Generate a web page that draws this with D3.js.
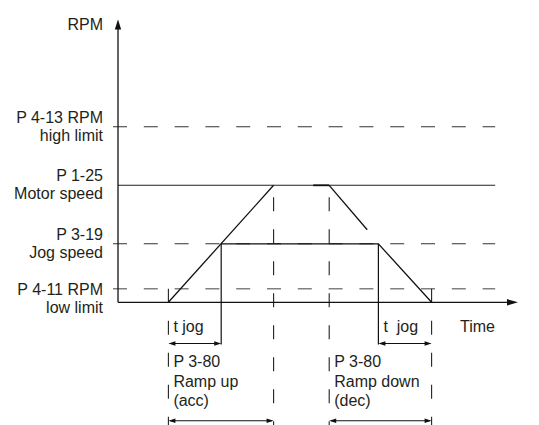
<!DOCTYPE html>
<html>
<head>
<meta charset="utf-8">
<script src="https://cdn.jsdelivr.net/npm/d3@7"></script>
<style>
  body { margin: 0; background: #fff; }
  svg text { font-family: "Liberation Sans", Arial, sans-serif; font-size: 16px; fill: #231f20; }
</style>
</head>
<body>
<svg class="jog-chart" width="539" height="425"></svg>
<script>
// speed levels (RPM), bottom to top
var levelRpm = [140, 600, 1200, 1800];
var levelLabels = [
  ["P 4-11 RPM", "low limit"],
  ["P 3-19", "Jog speed"],
  ["P 1-25", "Motor speed"],
  ["P 4-13 RPM", "high limit"]
];
var levelDashed = [true, true, false, true];

// time points of the profile
var tStart = 1.26, tJogReach = 2.58, tMotorReach = 3.89, tHold = 4.88,
    tDecel = 5.28, tDecelEnd = 6.23, tJogDecel = 6.51, tStop = 7.84, tEnd = 9.43;

var rampUp = [{t: tStart, rpm: 0}, {t: tMotorReach, rpm: 1200}];
var jogProfile = [{t: tJogReach, rpm: 600}, {t: tJogDecel, rpm: 600}, {t: tStop, rpm: 0}];
var motorHold = [{t: tHold, rpm: 1200}, {t: tDecel, rpm: 1200}];
var rampDown = [{t: tDecel, rpm: 1200}, {t: tDecelEnd, rpm: 744}];

var spanFrom = [tStart, tJogDecel, tStart, tDecel];
var spanTo = [tJogReach, tStop, tMotorReach, tStop];
var spanRow = ["jog", "jog", "ramp", "ramp"];
var spanLines = [["t jog"], ["t\u00a0\u00a0jog"], ["P 3-80", "Ramp up", "(acc)"], ["P 3-80", "Ramp down", "(dec)"]];

var JogChart = (function() {

  "use strict";

  var init = function(selector) {
    var svg = d3.select(selector);

    var x = d3.scaleLinear().domain([0, 10]).range([118, 518]),
        y = d3.scaleLinear().domain([0, 2900]).range([302.3, 19.55]);

    var rowY = {jog: 343.5, ramp: 420.7};
    var bottom = 425;

    var line = d3.line()
        .x(function(d) { return x(d.t); })
        .y(function(d) { return y(d.rpm); });

    var g = svg.append("g");

    // level lines
    levelRpm.forEach(function(v, i) {
      var dashed = levelDashed[i];
      g.append("line")
          .attr("x1", dashed ? x(0) - 5 : x(0))
          .attr("x2", x(tEnd))
          .attr("y1", y(v))
          .attr("y2", y(v))
          .attr("stroke", i === 0 ? "#808080" : (dashed ? "#333" : "#222"))
          .attr("stroke-width", i === 0 ? 1.5 : 1.1)
          .attr("stroke-dasharray", dashed ? "14,16.8" : null);

      var lbl = g.append("text")
          .attr("text-anchor", "end")
          .attr("x", 103)
          .attr("y", y(v) + (i === 0 ? 6.3 : -4.3));
      levelLabels[i].forEach(function(s, k) {
        lbl.append("tspan").attr("x", 103).attr("dy", k === 0 ? 0 : 18).text(s);
      });
    });

    // dashed verticals
    [tStart, tStop].forEach(function(t) {
      g.append("line")
          .attr("x1", x(t)).attr("x2", x(t))
          .attr("y1", y(levelRpm[0])).attr("y2", bottom)
          .attr("stroke", "#222").attr("stroke-width", 1.1)
          .attr("stroke-dasharray", "14,18");
    });
    [tMotorReach, tDecel].forEach(function(t) {
      g.append("line")
          .attr("x1", x(t)).attr("x2", x(t))
          .attr("y1", y(1200)).attr("y2", bottom)
          .attr("stroke", "#222").attr("stroke-width", 1.1)
          .attr("stroke-dasharray", "14,18")
          .attr("stroke-dashoffset", 20);
    });

    // solid verticals down to t jog arrows
    [tJogReach, tJogDecel].forEach(function(t) {
      g.append("line")
          .attr("x1", x(t)).attr("x2", x(t))
          .attr("y1", y(600)).attr("y2", rowY.jog + 1)
          .attr("stroke", "#111").attr("stroke-width", 1.2);
    });

    // profile
    [rampUp, jogProfile, rampDown].forEach(function(d) {
      g.append("path")
          .datum(d)
          .attr("d", line)
          .attr("fill", "none")
          .attr("stroke", "#111")
          .attr("stroke-width", 1.3);
    });
    g.append("path")
        .datum(motorHold)
        .attr("d", line)
        .attr("fill", "none")
        .attr("stroke", "#111")
        .attr("stroke-width", 1.8);

    // axes
    g.append("line")
        .attr("x1", x(0)).attr("x2", x(0))
        .attr("y1", y(0)).attr("y2", y(2900) + 6)
        .attr("stroke", "#111").attr("stroke-width", 1.3);
    g.append("path")
        .attr("d", "M" + x(0) + "," + y(2900) + "l-3.2,10h6.4z")
        .attr("fill", "#111");
    g.append("line")
        .attr("x1", x(0)).attr("x2", x(10) - 6)
        .attr("y1", y(0)).attr("y2", y(0))
        .attr("stroke", "#111").attr("stroke-width", 1.3);
    g.append("path")
        .attr("d", "M" + x(10) + "," + y(0) + "l-11,-3.2v6.4z")
        .attr("fill", "#111");

    g.append("text")
        .attr("text-anchor", "end")
        .attr("x", 103)
        .attr("y", 30)
        .text("RPM");
    g.append("text")
        .attr("x", 460)
        .attr("y", 332)
        .text("Time");

    // span arrows with labels
    spanFrom.forEach(function(t0, i) {
      var t1 = spanTo[i], yy = rowY[spanRow[i]];
      var a = x(t0), b = x(t1);
      g.append("line")
          .attr("x1", a + 2).attr("x2", b - 2)
          .attr("y1", yy).attr("y2", yy)
          .attr("stroke", "#111").attr("stroke-width", 1.1);
      g.append("path")
          .attr("d", "M" + a + "," + yy + "l7,-2.3v4.6z" + "M" + b + "," + yy + "l-7,-2.3v4.6z")
          .attr("fill", "#111");

      var txt = g.append("text")
          .attr("x", a + 5)
          .attr("y", spanRow[i] === "jog" ? 332 : 367);
      spanLines[i].forEach(function(s, k) {
        txt.append("tspan").attr("x", a + 5).attr("dy", k === 0 ? 0 : 19.5).text(s);
      });
    });
  };

  return {
    init: init
  };

})();

JogChart.init(".jog-chart");
</script>
</body>
</html>
